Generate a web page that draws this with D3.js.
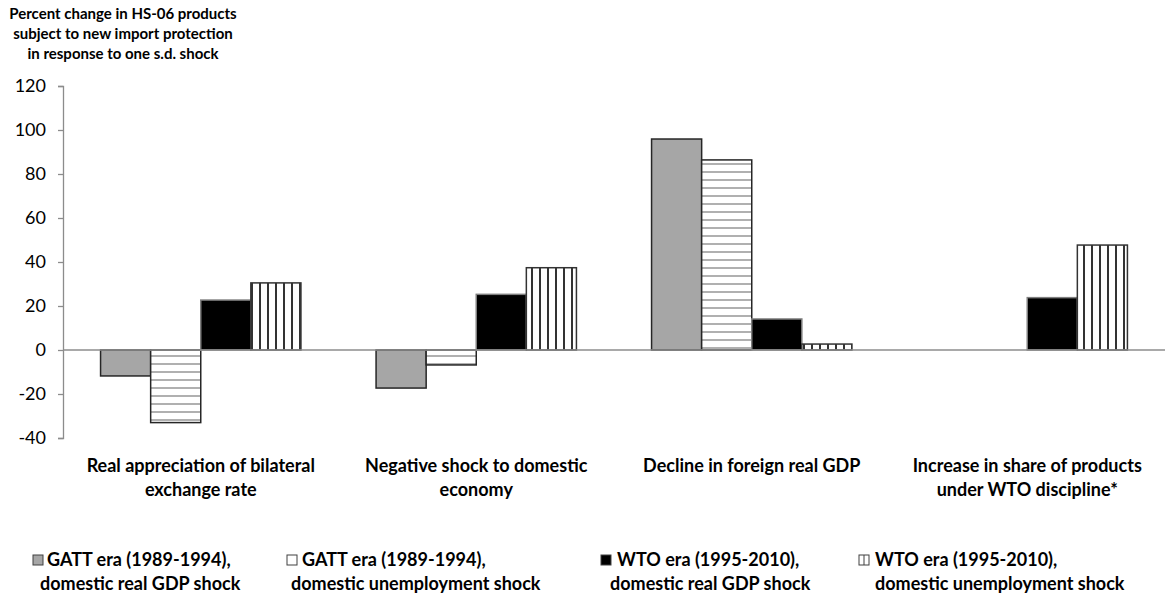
<!DOCTYPE html>
<html><head><meta charset="utf-8">
<script src="https://cdn.jsdelivr.net/npm/d3@7"></script>
<style>body{margin:0;background:#fff;}svg{display:block;font-family:Lato,"Open Sans",sans-serif;}</style>
</head><body>
<svg id="c" width="1168" height="597"></svg>
<script>
const categories = [
  ["Real appreciation of bilateral", "exchange rate"],
  ["Negative shock to domestic", "economy"],
  ["Decline in foreign real GDP"],
  ["Increase in share of products", "under WTO discipline*"]
];
const seriesNames = [
  ["GATT era (1989-1994),", "domestic real GDP shock"],
  ["GATT era (1989-1994),", "domestic unemployment shock"],
  ["WTO era (1995-2010),", "domestic real GDP shock"],
  ["WTO era (1995-2010),", "domestic unemployment shock"]
];
const gattGdp = [-11.8, -17.3, 95.9, null];
const gattUnemp = [-33.0, -6.8, 86.4, null];
const wtoGdp = [22.7, 25.3, 14.1, 23.8];
const wtoUnemp = [30.5, 37.4, 2.7, 47.7];
const yTicks = [-40, -20, 0, 20, 40, 60, 80, 100, 120];
const titleLines = ["Percent change in HS-06 products", "subject to new import protection", "in response to one s.d. shock"];

const series = [gattGdp, gattUnemp, wtoGdp, wtoUnemp];
const svg = d3.select("#c");
const defs = svg.append("defs");
// horizontal stripes
const ph = defs.append("pattern").attr("id","hstripe").attr("patternUnits","userSpaceOnUse").attr("width",8).attr("height",8);
ph.append("rect").attr("width",8).attr("height",8).attr("fill","#fff");
ph.append("rect").attr("y",3).attr("width",8).attr("height",2).attr("fill","#b0b0b0");
// vertical stripes
const pv = defs.append("pattern").attr("id","vstripe").attr("patternUnits","userSpaceOnUse").attr("width",8).attr("height",8);
pv.append("rect").attr("width",8).attr("height",8).attr("fill","#fff");
pv.append("rect").attr("x",3).attr("width",2).attr("height",8).attr("fill","#333");

const fills = ["#a6a6a6", "url(#hstripe)", "#000", "url(#vstripe)"];
const strokes = ["#262626", "#262626", "#7f7f7f", "#333"];

const x0 = d3.scaleBand().domain(d3.range(categories.length)).range([63, 1165]);
const bw = x0.bandwidth();
const x1 = d3.scaleBand().domain(d3.range(4)).range([bw*0.75/5.5, bw*(1-0.75/5.5)]);
const y = d3.scaleLinear().domain([-40, 120]).range([438, 86]);

// bars
series.forEach((vals, si) => {
  svg.append("g").selectAll("rect").data(vals.map((v,i)=>({v,i})).filter(d=>d.v!==null))
    .join("rect")
    .attr("x", d => x0(d.i) + x1(si))
    .attr("y", d => y(Math.max(0,d.v)))
    .attr("width", x1.bandwidth())
    .attr("height", d => Math.abs(y(d.v) - y(0)))
    .attr("fill", fills[si])
    .attr("stroke", strokes[si])
    .attr("stroke-width", 1.5);
});

// x axis line
svg.append("line").attr("x1",63).attr("x2",1165).attr("y1",y(0)).attr("y2",y(0)).attr("stroke","#8c8c8c").attr("stroke-width",1.3);

// y axis
const ya = svg.append("g").attr("transform","translate(63,0)")
  .call(d3.axisLeft(y).tickValues(yTicks).tickSize(5).tickPadding(12).tickFormat(d => String(d)));
ya.select(".domain").attr("stroke","#8c8c8c").attr("stroke-width",1.3);
ya.selectAll(".tick line").attr("stroke","#8c8c8c").attr("stroke-width",1.3);
ya.selectAll("text").attr("font-size",18).attr("fill","#000").attr("font-family","Lato, sans-serif");

// title
const t = svg.append("text").attr("text-anchor","middle").attr("font-size",15).attr("font-weight","bold");
titleLines.forEach((l,i)=> t.append("tspan").attr("x",123).attr("y",19+i*20).text(l));

// category labels
categories.forEach((lines,i)=>{
  const tx = svg.append("text").attr("text-anchor","middle").attr("font-size",18).attr("font-weight","bold");
  lines.forEach((l,j)=> tx.append("tspan").attr("x", x0(i)+bw/2).attr("y", 472+j*23.5).text(l));
});

// legend
const legBox = [33, 287, 601, 859];
const legT1 = [47, 302, 617, 875];
const legT2 = [40, 291, 610, 875];
seriesNames.forEach((lines,i)=>{
  const g = svg.append("g");
  g.append("rect").attr("x",legBox[i]).attr("y",555).attr("width",10).attr("height",10)
    .attr("fill", i===0 ? "#a6a6a6" : i===2 ? "#000" : "#fff").attr("stroke","#404040").attr("stroke-width",1);
  if(i===3){
    g.append("line").attr("x1",legBox[i]+5).attr("x2",legBox[i]+5).attr("y1",555).attr("y2",565).attr("stroke","#404040");
  }
  const tx = g.append("text").attr("font-size",18).attr("font-weight","bold");
  tx.append("tspan").attr("x",legT1[i]).attr("y",566).text(lines[0]);
  tx.append("tspan").attr("x",legT2[i]).attr("y",590).text(lines[1]);
});
</script>
</body></html>
